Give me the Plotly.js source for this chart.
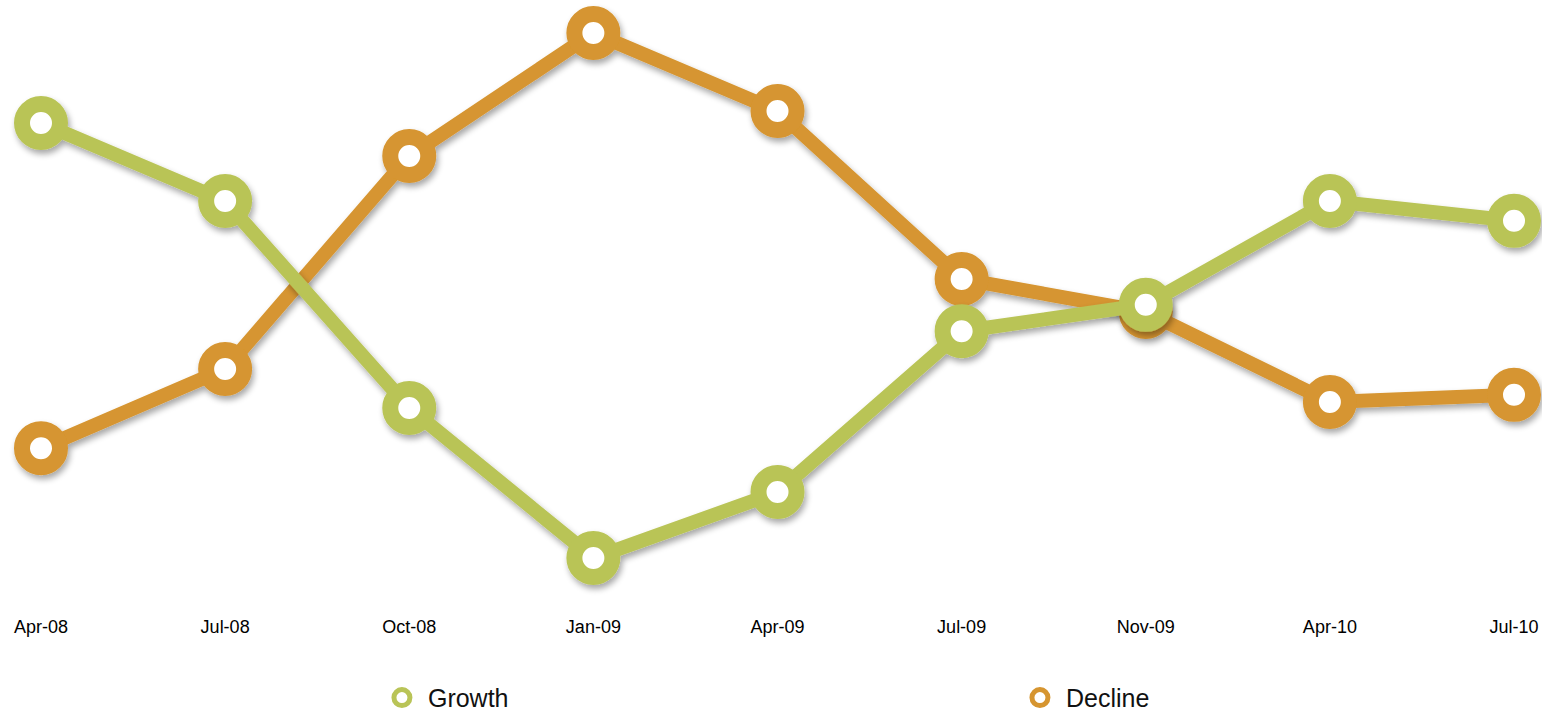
<!DOCTYPE html>
<html>
<head>
<meta charset="utf-8">
<script src="https://cdn.plot.ly/plotly-3.0.1.min.js"></script>
<style>
html,body{margin:0;padding:0;background:#fff;}
#chart{width:1542px;height:715px;}
.legend .legendlines{display:none;}
</style>
</head>
<body>
<div id="chart"></div>
<script>
var categories = ["Apr-08","Jul-08","Oct-08","Jan-09","Apr-09","Jul-09","Nov-09","Apr-10","Jul-10"];
var growth  = [79.5, 66.5, 32, 7, 18, 44.8, 49.2, 66.5, 63.2];
var decline = [25.3, 38.5, 74, 94.5, 81.5, 53.5, 48, 33, 34.2];

var GREEN = "#B9C457";
var ORANGE = "#D69530";

function series(name, vals, color, rank) {
  return {
    type: "scatter", mode: "lines+markers", name: name,
    x: categories, y: vals,
    line: {color: color, width: 14},
    marker: {symbol: "circle", size: 38, color: "#ffffff", line: {color: color, width: 16}},
    cliponaxis: false, hoverinfo: "skip", legendrank: rank
  };
}

var data = [
  series("Decline", decline, ORANGE, 2),
  series("Growth", growth, GREEN, 1)
];

var layout = {
  width: 1542, height: 715,
  margin: {l: 0, r: 0, t: 0, b: 110, autoexpand: false},
  paper_bgcolor: "#ffffff", plot_bgcolor: "#ffffff",
  font: {family: "Liberation Sans, Arial, Helvetica, sans-serif", color: "#000000"},
  showlegend: true,
  legend: {
    orientation: "h", x: 0.2438, xanchor: "left",
    yref: "container", y: 0.024, yanchor: "middle",
    entrywidth: 581, entrywidthmode: "pixels", itemwidth: 42,
    font: {size: 25, color: "#111111"},
    itemsizing: "trace", traceorder: "normal"
  },
  xaxis: {
    type: "category", range: [-0.2227, 8.152], automargin: false,
    showgrid: false, zeroline: false, showline: false, ticks: "",
    ticklabelstandoff: 9,
    tickfont: {size: 18, color: "#000000"}, fixedrange: true
  },
  yaxis: {
    range: [-0.833, 100], visible: false, showgrid: false, zeroline: false, fixedrange: true
  },
  hovermode: false
};

Plotly.newPlot("chart", data, layout, {displayModeBar: false, staticPlot: true}).then(function(gd){
  var svg = gd.querySelector("svg.main-svg");
  var ns = "http://www.w3.org/2000/svg";
  var defs = svg.querySelector("defs") || svg.insertBefore(document.createElementNS(ns, "defs"), svg.firstChild);
  var f = document.createElementNS(ns, "filter");
  f.setAttribute("id", "dshadow");
  f.setAttribute("x", "-20%"); f.setAttribute("y", "-20%");
  f.setAttribute("width", "140%"); f.setAttribute("height", "140%");
  f.innerHTML = '<feGaussianBlur in="SourceAlpha" stdDeviation="3"/>' +
    '<feOffset dx="2" dy="4" result="ob"/>' +
    '<feComponentTransfer><feFuncA type="linear" slope="0.35"/></feComponentTransfer>' +
    '<feMerge><feMergeNode/><feMergeNode in="SourceGraphic"/></feMerge>';
  defs.appendChild(f);
  gd.querySelectorAll(".scatterlayer .trace").forEach(function(t){
    t.setAttribute("filter", "url(#dshadow)");
  });
});
</script>
</body>
</html>
